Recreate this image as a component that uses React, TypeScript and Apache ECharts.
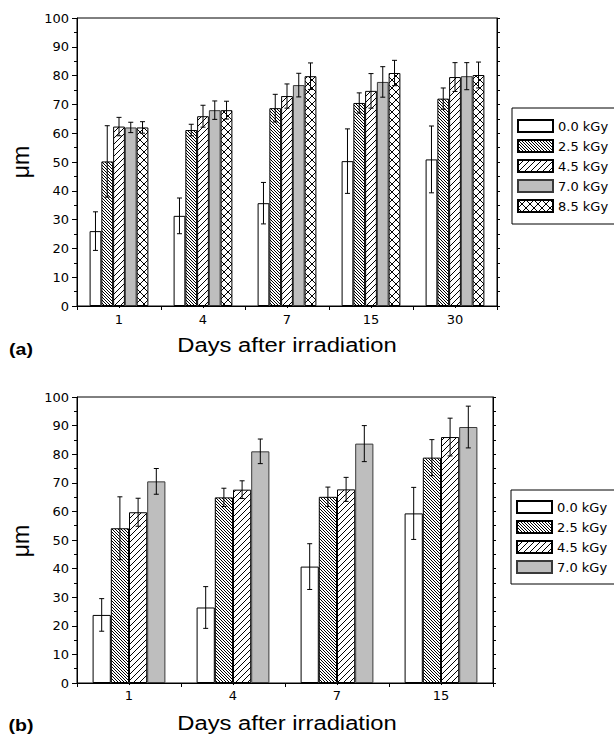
import React, { useEffect, useRef } from "react";
import * as echarts from "echarts";

// ---------- data ----------
const topDays = ["1", "4", "7", "15", "30"];
const topNames = ["0.0 kGy", "2.5 kGy", "4.5 kGy", "7.0 kGy", "8.5 kGy"];
const top00 = [26.0, 31.3, 35.7, 50.3, 50.9];
const top00Err = [6.7, 6.2, 7.2, 11.2, 11.6];
const top25 = [50.2, 61.1, 68.7, 70.5, 72.0];
const top25Err = [12.4, 2.0, 4.8, 3.5, 3.7];
const top45 = [62.3, 65.9, 72.9, 74.7, 79.5];
const top45Err = [3.2, 3.8, 4.2, 6.0, 5.0];
const top70 = [62.0, 68.0, 76.7, 77.8, 79.8];
const top70Err = [1.8, 3.2, 4.1, 5.3, 4.7];
const top85 = [62.0, 68.0, 79.8, 80.9, 80.2];
const top85Err = [2.0, 3.1, 4.6, 4.4, 4.5];

const botDays = ["1", "4", "7", "15"];
const botNames = ["0.0 kGy", "2.5 kGy", "4.5 kGy", "7.0 kGy"];
const bot00 = [23.8, 26.4, 40.7, 59.3];
const bot00Err = [5.7, 7.3, 8.0, 9.1];
const bot25 = [54.1, 64.9, 65.1, 78.8];
const bot25Err = [11.0, 3.2, 3.4, 6.3];
const bot45 = [59.7, 67.6, 67.7, 86.0];
const bot45Err = [4.9, 3.1, 4.2, 6.6];
const bot70 = [70.5, 81.0, 83.7, 89.5];
const bot70Err = [4.5, 4.3, 6.3, 7.3];

const yTicks = { min: 0, max: 100, interval: 10 };
const xLabel = "Days after irradiation";
const yLabel = "μm";

const CAT_GAP = 0.3;
const AX_FONT = "DejaVu Sans";
const TXT_FONT = "Liberation Sans";

function makePattern(size: number, kind: string) {
  const c = document.createElement("canvas");
  c.width = size;
  c.height = size;
  const ctx = c.getContext("2d")!;
  ctx.fillStyle = "#fff";
  ctx.fillRect(0, 0, size, size);
  ctx.fillStyle = "#000";
  for (let i = 0; i < size; i++) {
    if (kind === "back" || kind === "cross") ctx.fillRect(i, i, 1, 1);
    if (kind === "fwd" || kind === "cross") ctx.fillRect(size - 1 - i, i, 1, 1);
  }
  return { image: c, repeat: "repeat", imageWidth: size, imageHeight: size } as any;
}

export default function App() {
  const ref = useRef<HTMLDivElement>(null);
  useEffect(() => {
    if (!ref.current) return;
    const chart = echarts.init(ref.current, undefined, { renderer: "svg" });

    const styles = [
      { color: "#ffffff", borderColor: "#000", borderWidth: 1 },
      { color: makePattern(3, "back"), borderColor: "#000", borderWidth: 1 },
      { color: makePattern(6, "fwd"), borderColor: "#000", borderWidth: 1 },
      { color: "#bebebe", borderColor: "#3a3a3a", borderWidth: 1 },
      { color: makePattern(8, "cross"), borderColor: "#000", borderWidth: 1 },
    ];

    const topVals = [top00, top25, top45, top70, top85];
    const topErrs = [top00Err, top25Err, top45Err, top70Err, top85Err];
    const botVals = [bot00, bot25, bot45, bot70];
    const botErrs = [bot00Err, bot25Err, bot45Err, bot70Err];

    const errRender = (n: number) => (params: any, api: any) => {
      const cat = api.value(0);
      const lo = api.value(1);
      const hi = api.value(2);
      const s = api.value(3);
      const pLo = api.coord([cat, lo]);
      const pHi = api.coord([cat, hi]);
      const band = api.size([1, 0])[0];
      const bw = (band * (1 - CAT_GAP)) / n;
      const x = pLo[0] + (s - (n - 1) / 2) * bw;
      const cap = 2.5;
      const st = { stroke: "#000", lineWidth: 1 };
      return {
        type: "group",
        children: [
          { type: "line", shape: { x1: x, y1: pLo[1], x2: x, y2: pHi[1] }, style: st },
          { type: "line", shape: { x1: x - cap, y1: pLo[1], x2: x + cap, y2: pLo[1] }, style: st },
          { type: "line", shape: { x1: x - cap, y1: pHi[1], x2: x + cap, y2: pHi[1] }, style: st },
        ],
      };
    };

    const errData = (vals: number[][], errs: number[][]) => {
      const out: number[][] = [];
      vals.forEach((arr, s) =>
        arr.forEach((v, i) => out.push([i, v - errs[s][i], v + errs[s][i], s]))
      );
      return out;
    };

    const series: any[] = [];
    topVals.forEach((arr, s) =>
      series.push({
        type: "bar",
        name: topNames[s],
        xAxisIndex: 0,
        yAxisIndex: 0,
        data: arr,
        barGap: "0%",
        barCategoryGap: "30%",
        itemStyle: styles[s],
        emphasis: { disabled: true },
        z: 2,
      })
    );
    botVals.forEach((arr, s) =>
      series.push({
        type: "bar",
        name: botNames[s],
        xAxisIndex: 2,
        yAxisIndex: 2,
        data: arr,
        barGap: "0%",
        barCategoryGap: "30%",
        itemStyle: styles[s],
        emphasis: { disabled: true },
        z: 2,
      })
    );
    series.push({
      type: "custom",
      name: "errTop",
      xAxisIndex: 0,
      yAxisIndex: 0,
      renderItem: errRender(5),
      data: errData(topVals, topErrs),
      encode: { x: 0, y: [1, 2] },
      z: 5,
      clip: false,
    });
    series.push({
      type: "custom",
      name: "errBot",
      xAxisIndex: 2,
      yAxisIndex: 2,
      renderItem: errRender(4),
      data: errData(botVals, botErrs),
      encode: { x: 0, y: [1, 2] },
      z: 5,
      clip: false,
    });

    const black = { color: "#000", width: 1 };
    const catAxis = (gi: number, data: string[], margin: number) => ({
      gridIndex: gi,
      type: "category",
      data,
      position: "bottom",
      axisLine: { show: true, lineStyle: black },
      axisTick: { show: true, length: 4, lineStyle: black },
      axisLabel: { color: "#000", fontSize: 13, fontFamily: AX_FONT, margin },
      splitLine: { show: false },
    });
    const topAxis = (gi: number, max: number) => ({
      gridIndex: gi,
      type: "value",
      position: "top",
      min: 0,
      max,
      interval: 1,
      axisLine: { show: true, lineStyle: black },
      axisTick: { show: true, inside: true, length: 2, lineStyle: black },
      axisLabel: { show: false },
      splitLine: { show: false },
    });
    const valAxis = (gi: number, pos: string) => ({
      gridIndex: gi,
      type: "value",
      position: pos,
      ...yTicks,
      axisLine: { show: true, lineStyle: black },
      axisTick: { show: true, length: pos === "left" ? 5 : 3, lineStyle: black },
      minorTick: { show: true, splitNumber: 2, length: 3, lineStyle: black },
      axisLabel: {
        show: pos === "left",
        color: "#000",
        fontSize: 13,
        fontFamily: AX_FONT,
        margin: 8,
      },
      splitLine: { show: false },
      minorSplitLine: { show: false },
    });

    const legendBase = {
      orient: "vertical",
      itemWidth: 35,
      itemHeight: 12,
      itemGap: 6,
      icon: "rect",
      borderColor: "#000",
      borderWidth: 1,
      selectedMode: false,
      textStyle: { fontSize: 13, fontFamily: AX_FONT, color: "#000", lineHeight: 12 },
    };

    const txt = (text: string, x: number, y: number, font: string, extra: any = {}) => ({
      type: "text",
      x,
      y,
      ...extra,
      style: { text, font, fill: "#000", align: "center", verticalAlign: "middle" },
    });

    chart.setOption({
      animation: false,
      backgroundColor: "#fff",
      grid: [
        { left: 77, top: 18, width: 420, height: 288, show: true, borderColor: "#000", borderWidth: 1 },
        { left: 77, top: 397, width: 416, height: 286, show: true, borderColor: "#000", borderWidth: 1 },
      ],
      xAxis: [catAxis(0, topDays, 7), topAxis(0, 10), catAxis(1, botDays, 6), topAxis(1, 8)],
      yAxis: [valAxis(0, "left"), valAxis(0, "right"), valAxis(1, "left"), valAxis(1, "right")],
      legend: [
        { ...legendBase, data: topNames, left: 512, top: 108, padding: [11, 20, 11, 5] },
        { ...legendBase, data: botNames, left: 511, top: 490, padding: [10, 20, 10, 5] },
      ],
      graphic: [
        txt(yLabel, 21, 162, `23px "${TXT_FONT}"`, { rotation: Math.PI / 2 }),
        txt(yLabel, 21, 541, `23px "${TXT_FONT}"`, { rotation: Math.PI / 2 }),
        txt(xLabel, 287, 345, `20px "${TXT_FONT}"`, { scaleX: 1.19 }),
        txt(xLabel, 287, 723, `20px "${TXT_FONT}"`, { scaleX: 1.19 }),
        txt("(a)", 21, 349, `bold 17px "${TXT_FONT}"`, { scaleX: 1.15 }),
        txt("(b)", 21, 725, `bold 17px "${TXT_FONT}"`, { scaleX: 1.15 }),
      ],
      series,
    });
    return () => chart.dispose();
  }, []);
  return (
    <div
      ref={ref}
      style={{ position: "absolute", left: 0, top: 0, width: 614, height: 736 }}
    />
  );
}
